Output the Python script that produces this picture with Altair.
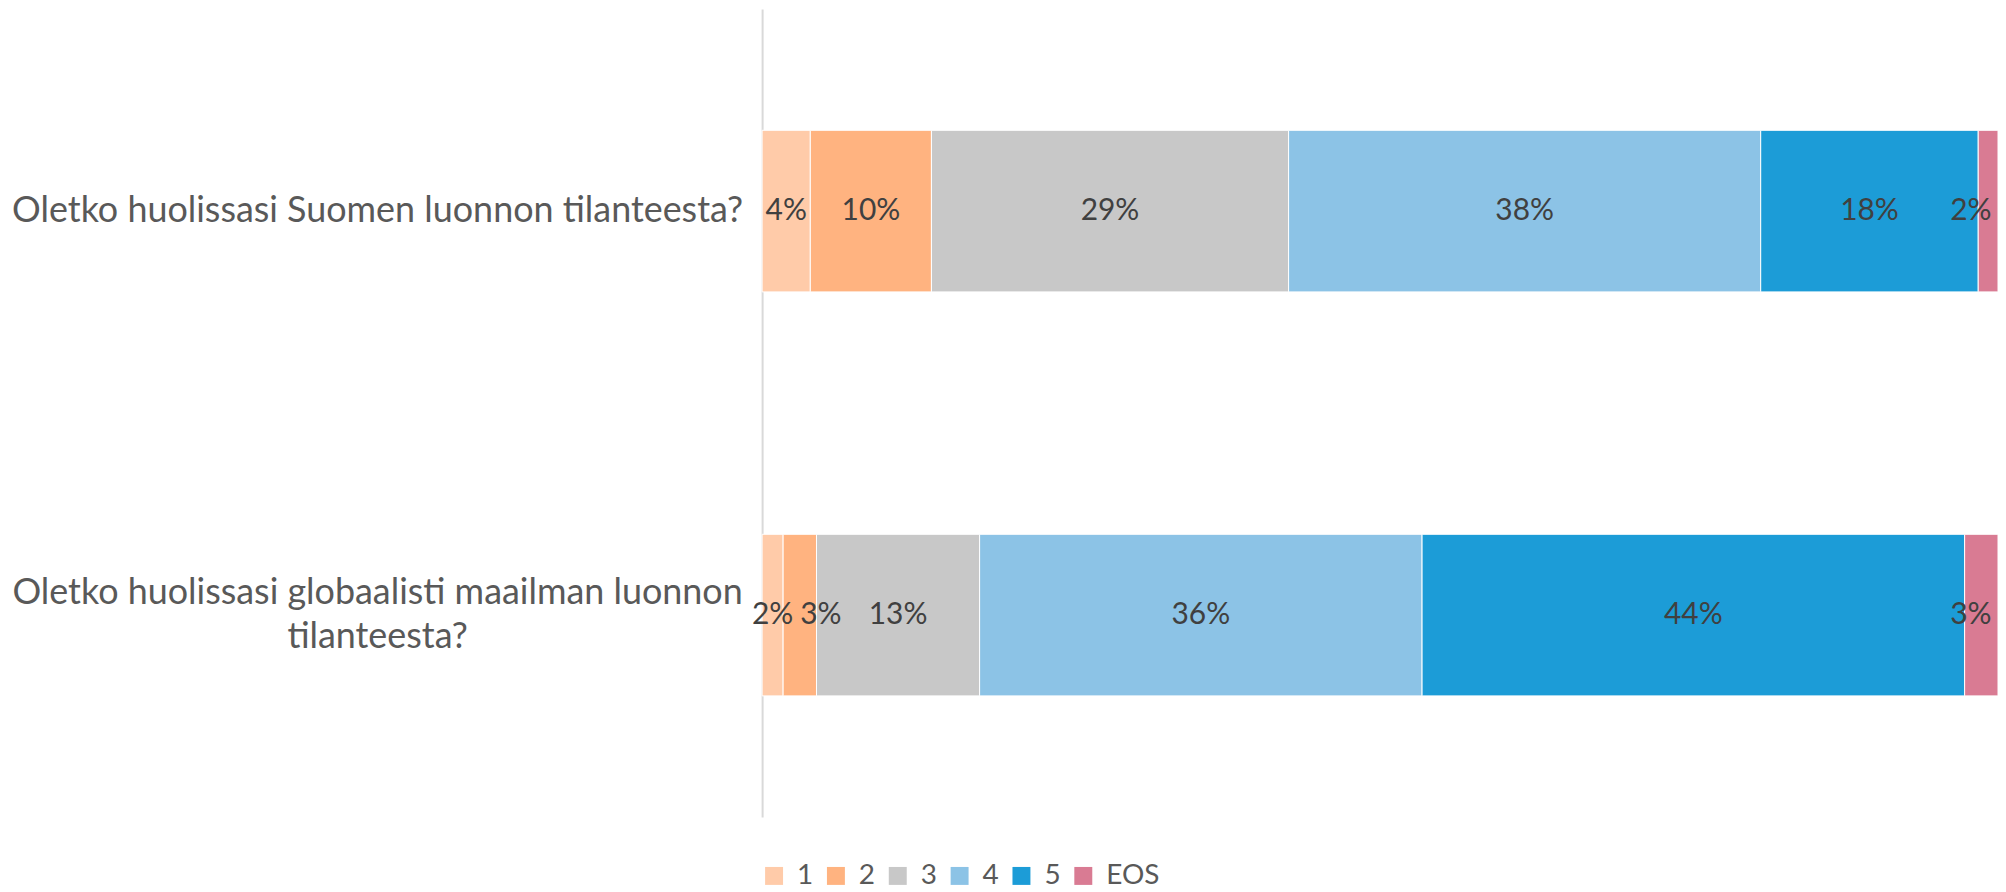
import altair as alt
import pandas as pd

questions = [
    "Oletko huolissasi Suomen luonnon tilanteesta?",
    "Oletko huolissasi globaalisti maailman luonnon tilanteesta?",
]
question_lines = [
    ["Oletko huolissasi Suomen luonnon tilanteesta?"],
    ["Oletko huolissasi globaalisti maailman luonnon", "tilanteesta?"],
]
categories = ["1", "2", "3", "4", "5", "EOS"]
q1_values = [0.039, 0.098, 0.289, 0.382, 0.176, 0.016]
q2_values = [0.017, 0.027, 0.132, 0.358, 0.439, 0.027]
colors = ["#FFCBA9", "#FFB380", "#C8C8C8", "#8CC3E6", "#1C9CD7", "#D97B93"]

rows = []
for q, vals in zip(questions, [q1_values, q2_values]):
    for i, (c, v) in enumerate(zip(categories, vals)):
        rows.append({"question": q, "category": c, "order": i, "value": v})
df = pd.DataFrame(rows)

LINE_H = 44
# label expression for wrapped axis labels
parts = []
multi = []
for q, lines in zip(questions, question_lines):
    if len(lines) > 1:
        arr = "[" + ", ".join("'" + l + "'" for l in lines) + "]"
        parts.append(f"datum.label == '{q}' ? {arr}")
        multi.append(f"datum.value == '{q}'")
label_expr = " : ".join(parts) + " : datum.label"
multi_test = " || ".join(multi)

FONT = "Lato"

y_enc = alt.Y(
    "question:N",
    sort=questions,
    scale=alt.Scale(paddingInner=0.6, paddingOuter=0.3),
    axis=alt.Axis(
        title=None,
        ticks=False,
        domainColor="#D9D9D9",
        domainWidth=2,
        labelPadding=386,
        labelAlign="center",
        labelBaseline="middle",
        labelFont=FONT,
        labelFontSize=36,
        labelColor="#595959",
        labelLimit=0,
        labelLineHeight=LINE_H,
        labelExpr=label_expr,
        labelOffset={"condition": {"test": multi_test, "value": -LINE_H / 2}, "value": 0},
    ),
)

base = alt.Chart(df).transform_stack(
    stack="value",
    groupby=["question"],
    as_=["x0", "x1"],
    sort=[alt.SortField("order", "ascending")],
).transform_calculate(
    mid="(datum.x0 + datum.x1) / 2"
).transform_window(
    prev_mid="lag(mid)",
    groupby=["question"],
    sort=[alt.SortField("order", "ascending")],
).transform_calculate(
    xlab="min(datum.prev_mid == null ? datum.mid : max(datum.mid, datum.prev_mid + 0.039), 0.978)"
)

bars = base.mark_bar(stroke="white", strokeWidth=1).encode(
    x=alt.X("x0:Q", scale=alt.Scale(domain=[0, 1], nice=False), axis=None),
    x2="x1:Q",
    y=y_enc,
    color=alt.Color(
        "category:N",
        scale=alt.Scale(domain=categories, range=colors),
        legend=alt.Legend(
            title=None,
            orient="none",
            direction="horizontal",
            legendX=-2,
            legendY=855,
            symbolType="square",
            symbolSize=324,
            symbolStrokeWidth=0,
            symbolOpacity=1,
            labelFont=FONT,
            labelFontSize=28,
            labelColor="#595959",
            labelOffset=9,
            columnPadding=8,
        ),
    ),
    order=alt.Order("order:Q"),
)

labels = base.mark_text(
    font=FONT, fontSize=30, color="#404040", align="center", baseline="middle"
).encode(
    x=alt.X("xlab:Q", scale=alt.Scale(domain=[0, 1], nice=False), axis=None),
    y=y_enc,
    text=alt.Text("value:Q", format=".0%"),
)

chart = (
    alt.layer(bars, labels)
    .properties(
        width=1239,
        height=810,
        padding={"left": 756, "top": 0, "right": 0, "bottom": 72},
        autosize=alt.AutoSizeParams(type="none"),
    )
    .configure_view(stroke=None)
)

chart.save("out.html", embed_options={"renderer": "svg", "actions": False})
